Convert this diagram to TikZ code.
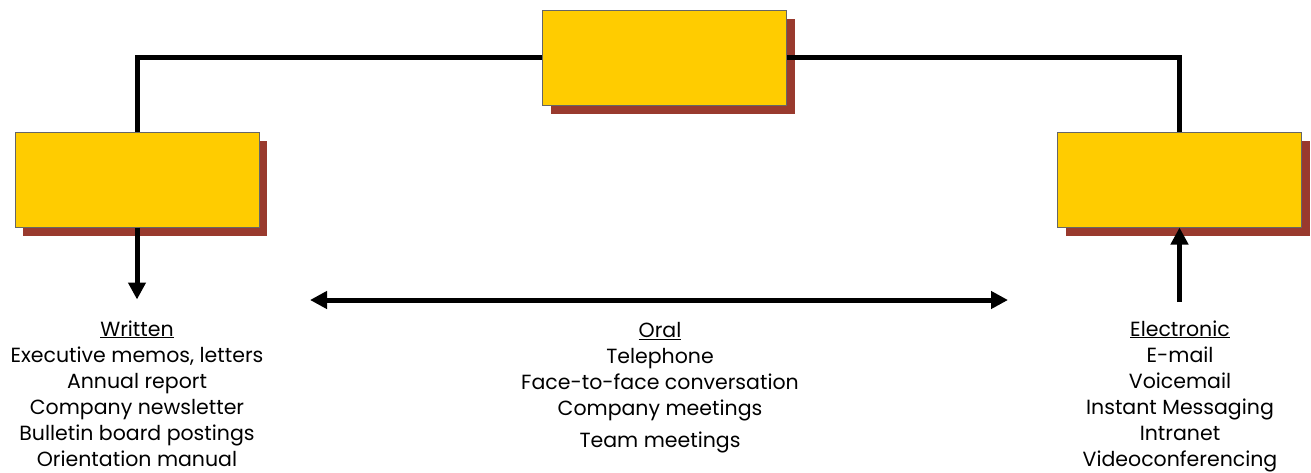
\documentclass[tikz,border=0pt]{standalone}
\usepackage{fontspec}
\setmainfont{Poppins}
\usepackage{tikz}
\usetikzlibrary{arrows.meta,positioning,shadows}
\definecolor{boxgold}{RGB}{255,204,0}
\definecolor{boxshade}{RGB}{153,58,46}
\newcommand{\listfont}{\fontsize{20.5}{26}\selectfont}

\begin{document}
\begin{tikzpicture}[x=1pt,y=-1pt,
		line width=5pt,
		>={Triangle[width=17pt,length=17pt]},
		base box/.style={rectangle,draw=black!60,line width=1pt,fill=boxgold,
			minimum width=244pt,minimum height=95pt,inner sep=0pt,
			drop shadow={shadow xshift=8pt,shadow yshift=-9pt,fill=boxshade,opacity=1}},
		list/.style={align=center,anchor=north,inner sep=0pt,font=\listfont}]

		\useasboundingbox (0,0) rectangle (1311,472);

		% the three boxes
		\node[base box] (top) at (664.5,57.5) {};
		\node[base box] (written) at (137,179.5) {};
		\node[base box] (electronic) at (1179.5,179.5) {};

		% text below the boxes
		\node[list] (wlist) at (137,318) {\underline{Written}\\Executive memos, letters\\Annual report\\
			Company newsletter\\Bulletin board postings\\Orientation manual};
		\node[list] (olist) at (660,320) {\underline{Oral}\\Telephone\\Face-to-face conversation\\
			Company meetings\\[6pt]Team meetings};
		\node[list] (elist) at (1180,318) {\underline{Electronic}\\E-mail\\Voicemail\\
			Instant Messaging\\Intranet\\Videoconferencing};

		\coordinate (oleft) at (310,300);
		\coordinate (oright) at (1008,300);

		\draw (top.west) -| (written.north);
		\draw (top.east) -| (electronic.north);
		\draw[->] (written.south) -- ++(0,72);
		\draw[->] (1179.5,302) -- (electronic.south);
		\draw[<->] (oleft) -- (oright);

\end{tikzpicture}
\end{document}
